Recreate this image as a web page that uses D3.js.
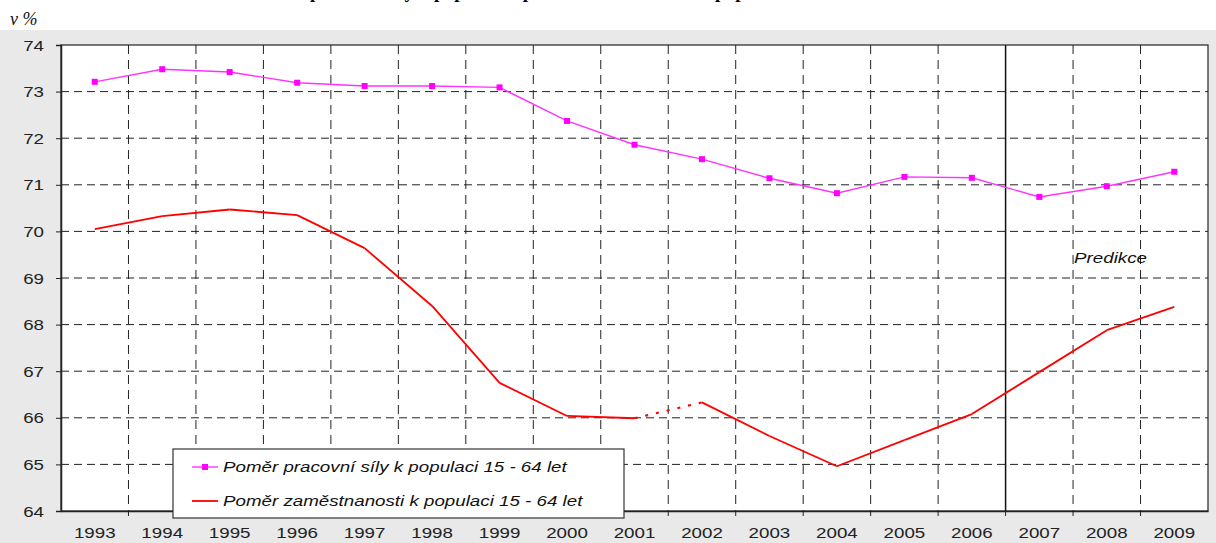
<!DOCTYPE html>
<html>
<head>
<meta charset="utf-8">
<script src="https://cdn.jsdelivr.net/npm/d3@7"></script>
<style>
  html, body { margin: 0; padding: 0; background: #fff; }
  svg { display: block; }
</style>
</head>
<body>
<svg id="chart" width="1216" height="543"></svg>
<script>
// data
const years = ['1993', '1994', '1995', '1996', '1997', '1998', '1999', '2000', '2001',
    '2002', '2003', '2004', '2005', '2006', '2007', '2008', '2009'];
const laborForce = [73.21, 73.48, 73.42, 73.19, 73.12, 73.12, 73.09, 72.37, 71.86,
    71.55, 71.14, 70.82, 71.17, 71.15, 70.74, 70.97, 71.28];
const employment = [70.05, 70.33, 70.47, 70.35, 69.64, 68.40, 66.75, 66.04, 65.99,
    66.33, 65.61, 64.96, 65.52, 66.08, 66.98, 67.88, 68.38];
const dottedFrom = ['2001'];          // employment segment drawn dotted (2001 -> 2002)
const yTicks = [64, 65, 66, 67, 68, 69, 70, 71, 72, 73, 74];
const seriesNames = ['Poměr pracovní síly k populaci 15 - 64 let', 'Poměr zaměstnanosti k populaci 15 - 64 let'];
const forecastFrom = '2007';
const forecastLabel = 'Predikce';

(function () {
    const svg = d3.select('#chart');
    const W = +svg.attr('width'), H = +svg.attr('height');
    const m = { top: 45, left: 61, right: 8, bottom: 32 };
    const iw = W - m.left - m.right, ih = H - m.top - m.bottom;
    const SX = 1.25; // picture is stretched horizontally

    // background
    svg.append('rect').attr('width', W).attr('height', H).attr('fill', '#fff');
    svg.append('rect').attr('y', 30).attr('width', W).attr('height', H - 30).attr('fill', '#e9e9e9');

    // title, cropped at the top edge as in the source picture
    svg.append('text')
        .attr('x', 560).attr('y', -2)
        .attr('text-anchor', 'middle')
        .style('font', 'bold 19px "Liberation Serif", serif')
        .text('Poměr pracovní síly k populaci a poměr zaměstnanosti k populaci 15 - 64 let');

    svg.append('text')
        .attr('x', 10).attr('y', 25)
        .style('font', 'italic 18px "Liberation Serif", serif')
        .attr('fill', '#111')
        .text('v %');

    const x = d3.scaleBand().domain(years).range([0, iw]);
    const y = d3.scaleLinear().domain([64, 74]).range([ih, 0]);
    const cx = d => x(d) + x.bandwidth() / 2;

    const g = svg.append('g').attr('transform', `translate(${m.left},${m.top})`);
    g.append('rect').attr('width', iw).attr('height', ih).attr('fill', '#fff');

    // grid
    g.append('g').selectAll('line')
        .data(yTicks.filter(v => v > 64 && v < 74))
        .join('line')
        .attr('x1', 0).attr('x2', iw)
        .attr('y1', d => y(d)).attr('y2', d => y(d))
        .attr('stroke', '#222').attr('stroke-dasharray', '8,5');
    g.append('g').selectAll('line')
        .data(years.slice(1))
        .join('line')
        .attr('x1', d => x(d)).attr('x2', d => x(d))
        .attr('y1', 0).attr('y2', ih)
        .attr('stroke', d => d === forecastFrom ? '#111' : '#222')
        .attr('stroke-width', d => d === forecastFrom ? 1.5 : 1)
        .attr('stroke-dasharray', d => d === forecastFrom ? null : '9,6');

    // frame
    g.append('rect').attr('width', iw).attr('height', ih)
        .attr('fill', 'none').attr('stroke', '#222').attr('stroke-width', 1.2);

    // axes
    const yAxis = g.append('g').call(d3.axisLeft(y).tickValues(yTicks).tickSize(5).tickFormat(''));
    const xAxis = g.append('g').attr('transform', `translate(0,${ih})`)
        .call(d3.axisBottom(x).tickSize(0).tickFormat(''));
    [yAxis, xAxis].forEach(a => {
        a.select('.domain').attr('stroke', '#222').attr('stroke-width', 1.5);
        a.selectAll('line').attr('stroke', '#222');
    });
    xAxis.selectAll('.b').data(years.slice(1)).join('line')
        .attr('x1', d => x(d)).attr('x2', d => x(d))
        .attr('y1', 0).attr('y2', 5).attr('stroke', '#222');

    const lab = 'normal 15px "Liberation Sans", Arial, sans-serif';
    g.append('g').selectAll('text').data(yTicks).join('text')
        .attr('transform', d => `translate(-17,${y(d) + 5.5}) scale(${SX},1)`)
        .attr('text-anchor', 'end')
        .attr('fill', '#222')
        .style('font', lab)
        .text(d => d);
    g.append('g').selectAll('text').data(years).join('text')
        .attr('transform', d => `translate(${cx(d)},${ih + 27}) scale(${SX},1)`)
        .attr('text-anchor', 'middle')
        .attr('fill', '#222')
        .style('font', lab)
        .text(d => d);

    // labor force series
    const lfPts = years.map((d, i) => [cx(d), y(laborForce[i])]);
    g.append('path')
        .attr('d', d3.line()(lfPts))
        .attr('fill', 'none').attr('stroke', '#ff33ff').attr('stroke-width', 1.4);
    g.append('g').selectAll('rect').data(lfPts).join('rect')
        .attr('x', d => d[0] - 3).attr('y', d => d[1] - 3)
        .attr('width', 6).attr('height', 6)
        .attr('fill', '#ff00ff');

    // employment series
    const emPts = years.map((d, i) => [cx(d), y(employment[i])]);
    const segs = d3.pairs(emPts).map((p, i) => ({ p, dotted: dottedFrom.includes(years[i]) }));
    g.append('g').selectAll('path').data(segs).join('path')
        .attr('d', d => d3.line()(d.p))
        .attr('fill', 'none').attr('stroke', '#ff0000')
        .attr('stroke-width', d => d.dotted ? 2.2 : 1.8)
        .attr('stroke-dasharray', d => d.dotted ? '3,8' : null)
        .attr('stroke-linejoin', 'round');

    // forecast label
    g.append('text')
        .attr('transform', `translate(${x(forecastFrom) + x.bandwidth() + 1},${y(69) - 15}) scale(${SX},1)`)
        .attr('fill', '#111')
        .style('font', 'italic 15px "Liberation Sans", Arial, sans-serif')
        .text(forecastLabel);

    // legend
    const lg = svg.append('g').attr('transform', 'translate(173,449)');
    lg.append('rect').attr('width', 451).attr('height', 69)
        .attr('fill', '#fff').attr('stroke', '#333').attr('stroke-width', 1.2);
    const colors = ['#ff33ff', '#ff0000'];
    seriesNames.forEach((name, i) => {
        const ly = 18 + i * 34;
        lg.append('line').attr('x1', 19).attr('x2', 45).attr('y1', ly).attr('y2', ly)
            .attr('stroke', colors[i]).attr('stroke-width', i ? 1.8 : 1.4);
        if (i === 0) {
            lg.append('rect').attr('x', 29).attr('y', ly - 3).attr('width', 6).attr('height', 6).attr('fill', '#ff00ff');
        }
        lg.append('text')
            .attr('transform', `translate(50,${ly + 5}) scale(${SX},1)`)
            .attr('fill', '#111')
            .style('font', 'italic 15px "Liberation Sans", Arial, sans-serif')
            .text(name);
    });
}());
</script>
</body>
</html>
